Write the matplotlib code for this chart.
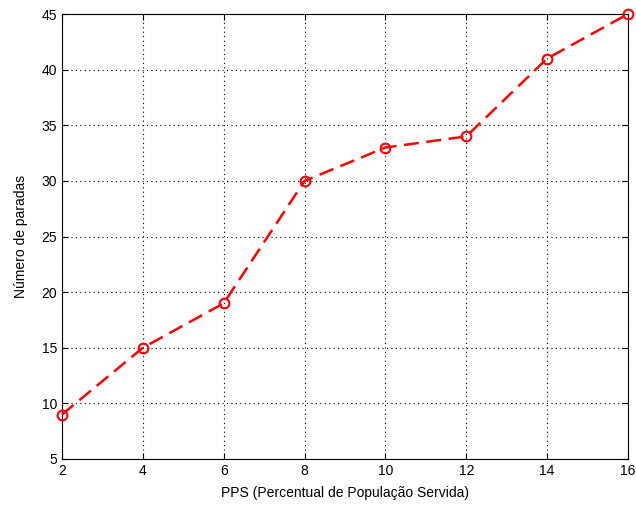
import matplotlib
matplotlib.use("Agg")
import matplotlib.pyplot as plt

# PPS vs number of stops
pps = [2, 4, 6, 8, 10, 12, 14, 16]
paradas = [9, 15, 19, 30, 33, 34, 41, 45]
xticks = [2, 4, 6, 8, 10, 12, 14, 16]
yticks = [5, 10, 15, 20, 25, 30, 35, 40, 45]

plt.rcParams['font.family'] = ['Liberation Sans', 'DejaVu Sans']

fig = plt.figure(figsize=(6.36, 5.08), dpi=100)
ax = fig.add_axes([62 / 636, 1 - 459 / 508, 566 / 636, 445 / 508])

ax.plot(pps, paradas, color="red", linestyle=(0, (6, 3)), linewidth=1.8,
        marker="o", markersize=7, markerfacecolor="none",
        markeredgecolor="red", markeredgewidth=1.5, clip_on=False, zorder=3)

ax.set_xlim(2, 16)
ax.set_ylim(5, 45)
ax.set_xticks(xticks)
ax.set_yticks(yticks)
ax.grid(True, color="black", linestyle=(0, (1, 3)), linewidth=0.8)
ax.tick_params(direction="in", top=True, right=True, labelsize=10, length=4)
for s in ax.spines.values():
    s.set_linewidth(0.8)

ax.set_xlabel("PPS (Percentual de População Servida)", fontsize=10, labelpad=6)
ax.set_ylabel("Número de paradas", fontsize=10, labelpad=10)

fig.savefig("out.png", dpi=100)
